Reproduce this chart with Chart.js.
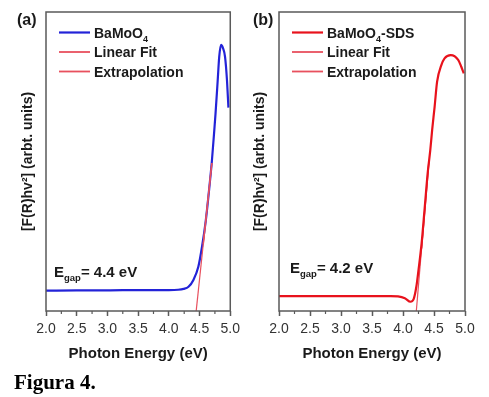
<!DOCTYPE html>
<html>
<head>
<meta charset="utf-8">
<script src="https://cdn.jsdelivr.net/npm/chart.js@4.4.0/dist/chart.umd.min.js"></script>
<style>
  body { margin: 0; background: #fff; }
  #wrap { position: relative; width: 489px; height: 397px; overflow: hidden; }
  #chartA { position: absolute; left: 0; top: 0; }
  #chartB { position: absolute; left: 245px; top: 0; }
  #fig { position: absolute; left: 14px; top: 370px; line-height: 21px;
         font: bold 21px "Liberation Serif", "Times New Roman", serif; color: #000; }
</style>
</head>
<body>
<div id="wrap">
  <canvas id="chartA" width="245" height="372"></canvas>
  <canvas id="chartB" width="244" height="372"></canvas>
  <div id="fig">Figura 4.</div>
</div>
<script>
// ---- data (y in arbitrary units, 0..100 = axis range) ----
var energyA = [2.0, 2.5, 3.0, 3.5, 4.0, 4.15, 4.24, 4.32, 4.40, 4.48, 4.54, 4.60, 4.65, 4.70,
               4.74, 4.76, 4.795, 4.82, 4.85, 4.88, 4.915, 4.947, 4.97];
var fA      = [6.8, 6.9, 6.9, 7.0, 7.0, 7.1, 7.4, 8.1, 10.4, 14.8, 21.5, 30.0, 39.5, 50.0,
               60.5, 66.0, 77.0, 85.0, 89.0, 88.0, 85.0, 77.0, 68.0];
var fitXA = [4.56, 4.70];
var fitYA = [22.3, 49.5];
var extXA = [4.445, 4.70];
var extYA = [0, 49.5];

var energyB = [2.0, 2.5, 3.0, 3.5, 3.8, 3.92, 4.03, 4.12, 4.17, 4.215, 4.25, 4.30, 4.35, 4.40,
               4.44, 4.47, 4.51, 4.55, 4.62, 4.67, 4.77, 4.89, 4.94, 4.98];
var fB      = [5.0, 5.0, 5.0, 5.0, 5.0, 4.9, 4.3, 3.1, 3.9, 8.1, 13.7, 22.6, 34.5, 46.5,
               53.8, 60.5, 68.3, 76.7, 82.3, 84.5, 85.6, 84.0, 81.7, 79.5];
var fitXB = [4.30, 4.42];
var fitYB = [20.9, 50.5];
var extXB = [4.215, 4.42];
var extYB = [0, 50.5];

var xTicks = [2.0, 2.5, 3.0, 3.5, 4.0, 4.5, 5.0];
var minorTicks = [2.25, 2.75, 3.25, 3.75, 4.25, 4.75];

var blue = '#2323d8';
var red = '#e8121c';
var fitRed = '#e8505e';
var frameColor = '#5a5a5a';
var sans = '"Liberation Sans", Arial, sans-serif';

function pts(xs, ys) {
  return xs.map(function (v, i) { return { x: v, y: ys[i] }; });
}

function drawParts(ctx, parts, x, y) {
  parts.forEach(function (p) {
    ctx.font = p.font;
    ctx.fillText(p.t, x, y + (p.dy || 0));
    x += ctx.measureText(p.t).width;
  });
}

var panelDecor = {
  id: 'panelDecor',
  afterDraw: function (chart, args, opts) {
    var ctx = chart.ctx, a = chart.chartArea, x = chart.scales.x;
    ctx.save();
    // frame
    ctx.strokeStyle = frameColor;
    ctx.lineWidth = 1.5;
    ctx.strokeRect(a.left, a.top, a.right - a.left, a.bottom - a.top);
    // minor ticks
    ctx.lineWidth = 1.2;
    minorTicks.forEach(function (v) {
      var px = x.getPixelForValue(v);
      ctx.beginPath();
      ctx.moveTo(px, a.bottom);
      ctx.lineTo(px, a.bottom + 3);
      ctx.stroke();
    });
    // legend
    ctx.fillStyle = '#1a1a1a';
    ctx.textBaseline = 'alphabetic';
    opts.items.forEach(function (it, i) {
      var ly = a.top + 20.5 + i * 19.5;
      ctx.strokeStyle = it.color;
      ctx.lineWidth = it.width;
      ctx.beginPath();
      ctx.moveTo(a.left + 13, ly);
      ctx.lineTo(a.left + 44, ly);
      ctx.stroke();
      drawParts(ctx, it.parts, a.left + 48, ly + 5);
    });
    // panel tag
    ctx.font = 'bold 16px ' + sans;
    ctx.fillText(opts.tag, opts.tagX, 25);
    // band gap label
    drawParts(ctx, opts.egap, opts.egapX, opts.egapY);
    ctx.restore();
  }
};

function makeChart(id, curve, curveColor, fit, ext, fitOnTop, yTitlePad, padRight, deco) {
  var curveSet = { label: 'curve', data: curve, borderColor: curveColor, borderWidth: 2.2,
                   pointRadius: 0, cubicInterpolationMode: 'monotone' };
  var fitSet = { label: 'Linear Fit', data: fit, borderColor: fitRed, borderWidth: 1.5, pointRadius: 0 };
  var extSet = { label: 'Extrapolation', data: ext, borderColor: fitRed, borderWidth: 1.2, pointRadius: 0 };
  var sets = fitOnTop ? [fitSet, extSet, curveSet] : [curveSet, fitSet, extSet];
  return new Chart(document.getElementById(id).getContext('2d'), {
    type: 'line',
    data: { datasets: sets },
    options: {
      responsive: false,
      animation: false,
      layout: { padding: { top: 12, right: padRight, bottom: 0, left: 0 } },
      plugins: {
        legend: { display: false },
        tooltip: { enabled: false },
        panelDecor: deco
      },
      scales: {
        x: {
          type: 'linear',
          min: 2, max: 5,
          afterFit: function (s) { s.height = 61; },
          afterBuildTicks: function (s) { s.ticks = xTicks.map(function (v) { return { value: v }; }); },
          ticks: {
            padding: 5,
            color: '#333',
            font: { family: sans, size: 14 },
            callback: function (v) { return v.toFixed(1); }
          },
          grid: { display: true, drawOnChartArea: false, tickLength: 5, tickColor: frameColor, tickWidth: 1.5 },
          border: { display: false },
          title: {
            display: true,
            text: 'Photon Energy (eV)',
            color: '#1a1a1a',
            font: { family: sans, size: 15, weight: 'bold' },
            padding: { top: 0, bottom: 9 }
          }
        },
        y: {
          min: 0, max: 100,
          afterFit: function (s) { s.width = deco.yWidth; },
          ticks: { display: false },
          grid: { display: false },
          border: { display: false },
          title: {
            display: true,
            text: '[F(R)hv²] (arbt. units)',
            color: '#1a1a1a',
            font: { family: sans, size: 14, weight: 'bold' },
            padding: { top: yTitlePad, bottom: 0 }
          }
        }
      }
    },
    plugins: [panelDecor]
  });
}

var big = 'bold 14px ' + sans, small = 'bold 9px ' + sans;
var eBig = 'bold 15px ' + sans, eSmall = 'bold 9.5px ' + sans;

makeChart('chartA', pts(energyA, fA), blue, pts(fitXA, fitYA), pts(extXA, extYA), true, 20, 13, {
  yWidth: 46,
  tag: '(a)', tagX: 17,
  egapX: 54, egapY: 277,
  egap: [{ t: 'E', font: eBig }, { t: 'gap', font: eSmall, dy: 4 }, { t: '= 4.4 eV', font: eBig }],
  items: [
    { color: blue, width: 2.2, parts: [{ t: 'BaMoO', font: big }, { t: '4', font: small, dy: 4 }] },
    { color: fitRed, width: 1.8, parts: [{ t: 'Linear Fit', font: big }] },
    { color: fitRed, width: 1.8, parts: [{ t: 'Extrapolation', font: big }] }
  ]
});

makeChart('chartB', pts(energyB, fB), red, pts(fitXB, fitYB), pts(extXB, extYB), false, 6.6, 24, {
  yWidth: 34,
  tag: '(b)', tagX: 8,
  egapX: 45, egapY: 272.5,
  egap: [{ t: 'E', font: eBig }, { t: 'gap', font: eSmall, dy: 4 }, { t: '= 4.2 eV', font: eBig }],
  items: [
    { color: red, width: 2.2, parts: [{ t: 'BaMoO', font: big }, { t: '4', font: small, dy: 4 }, { t: '-SDS', font: big }] },
    { color: fitRed, width: 1.8, parts: [{ t: 'Linear Fit', font: big }] },
    { color: fitRed, width: 1.8, parts: [{ t: 'Extrapolation', font: big }] }
  ]
});
</script>
</body>
</html>
